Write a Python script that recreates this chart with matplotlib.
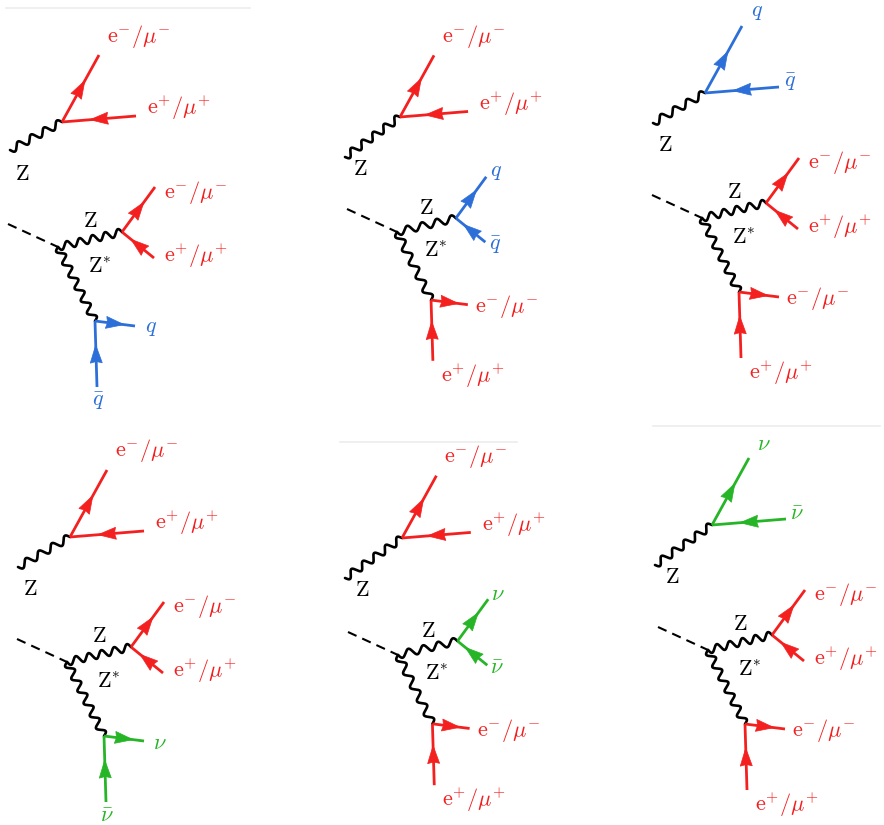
import numpy as np
import matplotlib
matplotlib.use("Agg")
import matplotlib.pyplot as plt
from matplotlib.patches import Polygon

plt.rcParams['mathtext.fontset'] = 'cm'

RED = '#f42020'
BLUE = '#2d6fd8'
GREEN = '#26b526'

# particle pairs: (outgoing label, incoming label, colour, short?)
PAIRS = {
    'll': (r'$\mathrm{e}^{-}/\mu^{-}$', r'$\mathrm{e}^{+}/\mu^{+}$', RED, False),
    'qq': (r'$q$', r'$\bar{q}$', BLUE, True),
    'nn': (r'$\nu$', r'$\bar{\nu}$', GREEN, True),
}

# decay products of each boson, per panel
upper_z_pair = ['ll', 'll', 'qq', 'll', 'll', 'nn']
lower_z_pair = ['ll', 'qq', 'll', 'll', 'nn', 'll']
zstar_pair = ['qq', 'll', 'll', 'nn', 'll', 'll']

# panel anchors (pixels)
upper_vx = [62, 400, 705, 70, 402, 712]
upper_vy = [122, 117, 93, 537, 538, 525]
upper_zx = [10, 345, 653, 18, 345, 655]
upper_zy = [150, 157, 123, 567, 578, 565]
lower_vx = [58, 397, 702, 67, 398, 708]
lower_vy = [247, 232, 218, 662, 655, 650]
scale = [1.0, 0.92, 1.0, 1.0, 0.93, 1.0]

# faint separator lines at top of some panels
sep_x0 = [6, 340, 653]
sep_x1 = [250, 517, 880]
sep_y = [8, 442, 426]

# template geometry (pixel vectors)
OUT1 = np.array([37, -67]); IN1 = np.array([74, -6])
DASH = np.array([-50, -23]); LZ = np.array([64, -15])
OUT2 = np.array([33, -45]); IN2 = np.array([32, 26])
ZS = np.array([37, 74]); OUT3 = np.array([40, 5]); IN3 = np.array([2, 66])

# label offsets: (long-left offset, short-center offset)
LAB = {
    'A': (np.array([8, -19]), np.array([15, -14])),
    'B': (np.array([11, -8]), np.array([11, -5])),
    'C': (np.array([9, 5]), np.array([10, -5])),
    'D': (np.array([10, -2]), np.array([10, 3])),
    'E': (np.array([7, 2]), np.array([16, 2])),
    'F': (np.array([8, 15]), np.array([1, 14])),
}

FS = 16
W, H = 884, 825
fig = plt.figure(figsize=(W / 100, H / 100), dpi=100)
ax = fig.add_axes([0, 0, 1, 1])
ax.set_xlim(0, W)
ax.set_ylim(H, 0)
ax.axis('off')


def wavy(p0, p1, period=14.5, amp=3.7, lw=1.9):
    p0 = np.asarray(p0, float); p1 = np.asarray(p1, float)
    d = p1 - p0
    L = np.hypot(*d)
    u = d / L
    n = np.array([-u[1], u[0]])
    nper = max(1, int(round(L / period)))
    t = np.linspace(0, 1, 500)
    off = amp * np.sin(2 * np.pi * nper * t)
    pts = p0[None, :] + t[:, None] * d[None, :] + off[:, None] * n[None, :]
    ax.plot(pts[:, 0], pts[:, 1], color='black', lw=lw, solid_capstyle='round')


def fermion(start, end, color, lw=2.0, alen=18, awid=12):
    start = np.asarray(start, float); end = np.asarray(end, float)
    ax.plot([start[0], end[0]], [start[1], end[1]], color=color, lw=lw,
            solid_capstyle='butt')
    d = end - start
    u = d / np.hypot(*d)
    n = np.array([-u[1], u[0]])
    mid = (start + end) / 2
    tip = mid + u * alen / 2
    base = mid - u * alen / 2
    notch = base + u * 1.5
    pts = [tip, base + n * awid / 2, notch, base - n * awid / 2]
    ax.add_patch(Polygon(pts, closed=True, facecolor=color, edgecolor=color, lw=0.5))


def label(point, slot, text, color, short):
    off_long, off_short = LAB[slot]
    if short:
        p = point + off_short
        ax.text(p[0], p[1], text, color=color, fontsize=FS, ha='center', va='center')
    else:
        p = point + off_long
        ax.text(p[0], p[1], text, color=color, fontsize=FS, ha='left', va='center')


def decay(vertex, out_vec, in_vec, pair, slot_out, slot_in):
    lo, li, col, short = PAIRS[pair]
    e_out = vertex + out_vec
    e_in = vertex + in_vec
    fermion(vertex, e_out, col)
    fermion(e_in, vertex, col)
    label(e_out, slot_out, lo, col, short)
    label(e_in, slot_in, li, col, short)


for x0, x1, y in zip(sep_x0, sep_x1, sep_y):
    ax.plot([x0, x1], [y, y], color='#ececec', lw=1.2)

for i in range(6):
    s = scale[i]
    V = np.array([upper_vx[i], upper_vy[i]], float)
    Zs = np.array([upper_zx[i], upper_zy[i]], float)
    # upper on-shell Z
    wavy(Zs, V)
    ax.text(V[0] - 40, V[1] + 52, r'$\mathrm{Z}$', fontsize=FS, ha='center', va='center')
    decay(V, OUT1 * s, IN1 * s, upper_z_pair[i], 'A', 'B')

    # lower: Higgs -> Z Z*
    Wv = np.array([lower_vx[i], lower_vy[i]], float)
    ds = Wv + DASH
    ax.plot([ds[0], Wv[0]], [ds[1], Wv[1]], color='black', lw=1.5,
            dashes=(4.5, 3.0))
    U = Wv + LZ * s
    wavy(Wv, U)
    zl = Wv + np.array([32, -26]) * s
    ax.text(zl[0], zl[1], r'$\mathrm{Z}$', fontsize=FS, ha='center', va='center')
    decay(U, OUT2 * s, IN2 * s, lower_z_pair[i], 'C', 'D')

    X = Wv + ZS * s
    wavy(Wv, X)
    zsl = Wv + np.array([42, 20]) * s
    ax.text(zsl[0], zsl[1], r'$\mathrm{Z}^{*}$', fontsize=FS, ha='center', va='center')
    decay(X, OUT3 * s, IN3 * s, zstar_pair[i], 'E', 'F')

fig.savefig('out.png', dpi=100)
